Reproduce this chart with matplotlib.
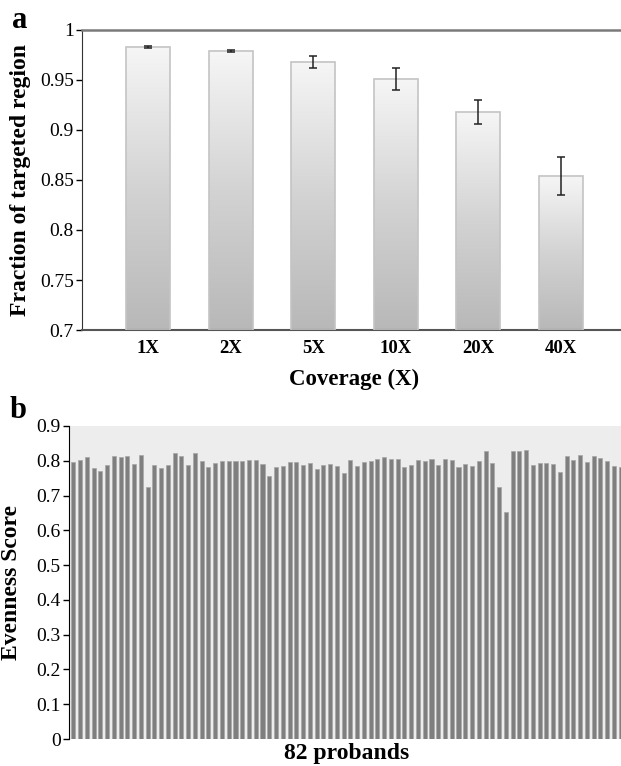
import numpy as np
import matplotlib
matplotlib.use("Agg")
import matplotlib.pyplot as plt
from matplotlib.colors import LinearSegmentedColormap

# ---- data ----
coverage = ["1X", "2X", "5X", "10X", "20X", "40X"]
fraction = [0.983, 0.979, 0.968, 0.951, 0.918, 0.854]
fraction_err = [0.0006, 0.0013, 0.0057, 0.011, 0.0117, 0.019]

evenness = [
    0.796, 0.802, 0.811, 0.778, 0.771, 0.789, 0.814, 0.812, 0.815, 0.790,
    0.818, 0.724, 0.788, 0.780, 0.789, 0.821, 0.814, 0.789, 0.823,
    0.799, 0.782, 0.794, 0.800, 0.799, 0.798, 0.799, 0.801, 0.803, 0.792,
    0.756, 0.783, 0.784, 0.796, 0.796, 0.787, 0.794, 0.775, 0.789, 0.790, 0.785,
    0.765, 0.803, 0.784, 0.797, 0.800, 0.805, 0.811, 0.804, 0.804, 0.783,
    0.788, 0.801, 0.799, 0.806, 0.787, 0.805, 0.801, 0.781, 0.791, 0.786, 0.798,
    0.829, 0.795, 0.725, 0.653, 0.828, 0.829, 0.832, 0.787, 0.795, 0.795,
    0.792, 0.767, 0.813, 0.802, 0.816, 0.797, 0.813, 0.808, 0.799, 0.786, 0.781,
]
a_yticks = [0.7, 0.75, 0.8, 0.85, 0.9, 0.95, 1.0]
a_yticklabels = ["0.7", "0.75", "0.8", "0.85", "0.9", "0.95", "1"]
b_yticks = [0, 0.1, 0.2, 0.3, 0.4, 0.5, 0.6, 0.7, 0.8, 0.9]
b_yticklabels = ["0", "0.1", "0.2", "0.3", "0.4", "0.5", "0.6", "0.7", "0.8", "0.9"]

plt.rcParams['font.family'] = ['Liberation Serif', 'DejaVu Serif']

W, H = 621, 766
fig = plt.figure(figsize=(W / 100, H / 100), dpi=100)

def frac_box(left, right, top, bottom):
    return [left / W, 1 - bottom / H, (right - left) / W, (bottom - top) / H]

# ---- panel a ----
axa = fig.add_axes(frac_box(82, 627, 30, 330))
x = np.arange(len(coverage))
bw = 0.53
axa.bar(x, np.array(fraction) - 0.7, bottom=0.7, width=bw,
        facecolor='none', edgecolor='#c4c4c4', linewidth=1.2, zorder=3)
cmap = LinearSegmentedColormap.from_list('g', ['#b8b8b8', '#d3d3d3', '#f6f6f6'])
grad = np.linspace(0, 1, 256).reshape(-1, 1)
for xi, v in zip(x, fraction):
    axa.imshow(grad, extent=[xi - bw / 2, xi + bw / 2, 0.7, v], origin='lower',
               cmap=cmap, aspect='auto', zorder=2, interpolation='bilinear')
axa.errorbar(x, fraction, yerr=fraction_err, fmt='none', ecolor='#222222',
             elinewidth=1.1, capsize=3, capthick=1.1, zorder=4)
axa.set_xlim(-0.8, 5.8)
axa.set_ylim(0.7, 1.0)
axa.set_yticks(a_yticks)
axa.set_yticklabels(a_yticklabels, fontsize=14)
axa.set_xticks(x)
axa.set_xticklabels(coverage, fontsize=13.5, fontweight='bold')
axa.tick_params(axis='x', length=0, pad=7)
axa.tick_params(axis='y', length=4, width=1, direction='out', pad=2)
axa.spines['right'].set_visible(False)
axa.spines['top'].set_color('#7a7a7a')
axa.spines['top'].set_linewidth(1.8)
axa.spines['left'].set_color('#333333')
axa.spines['bottom'].set_color('#555555')
axa.spines['bottom'].set_linewidth(1.5)
axa.set_xlabel("Coverage (X)", fontsize=16.5, fontweight='bold', labelpad=9)
axa.set_ylabel("Fraction of targeted region", fontsize=17, fontweight='bold', labelpad=6)
fig.text(12 / W, 1 - 20 / H, "a", fontsize=22, fontweight='bold', va='center', ha='left')

# ---- panel b ----
axb = fig.add_axes(frac_box(69, 625, 426, 739))
axb.set_facecolor('#ecedec')
xb = np.arange(len(evenness))
axb.bar(xb, evenness, width=0.6, color='#7f7f7f', edgecolor='#a8a8a8',
        linewidth=0.5, zorder=3)
axb.set_xlim(-0.63, len(evenness) - 1 + 0.63)
axb.set_ylim(0, 0.9)
axb.set_yticks(b_yticks)
axb.set_yticklabels(b_yticklabels, fontsize=14)
axb.set_xticks([])
axb.tick_params(axis='y', length=4, width=1, direction='out', pad=2)
for s in ['top', 'right', 'bottom']:
    axb.spines[s].set_visible(False)
axb.spines['left'].set_color('black')
axb.set_xlabel("82 probands", fontsize=17, fontweight='bold', labelpad=3)
axb.set_ylabel("Evenness Score", fontsize=17, fontweight='bold', labelpad=10)
fig.text(10 / W, 1 - 410 / H, "b", fontsize=22, fontweight='bold', va='center', ha='left')

fig.savefig("out.png", dpi=100)
